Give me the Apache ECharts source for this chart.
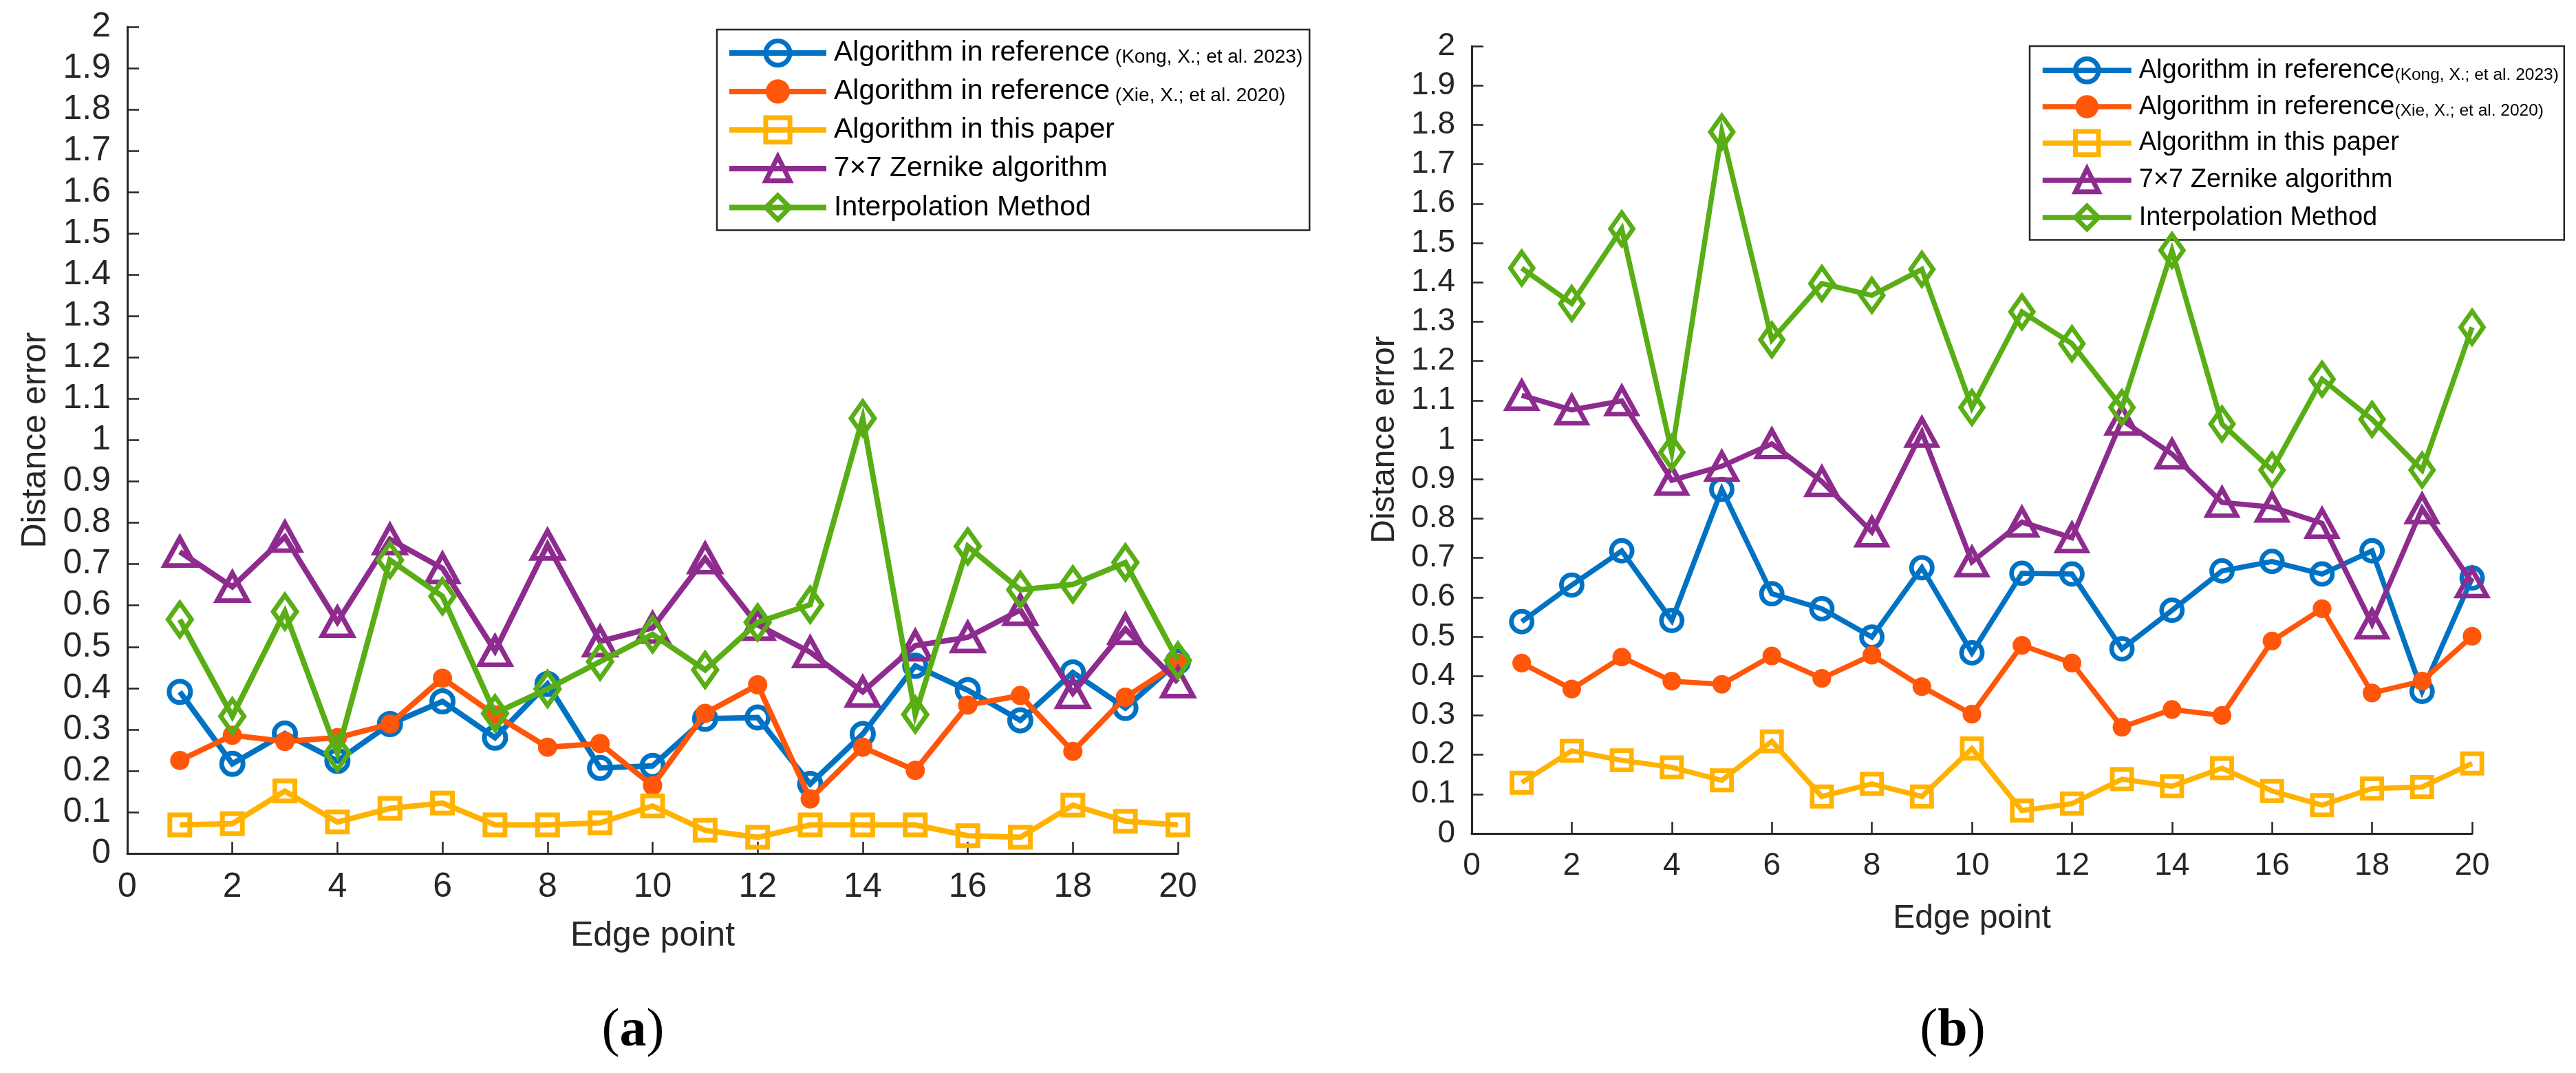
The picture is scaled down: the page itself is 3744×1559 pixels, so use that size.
<!DOCTYPE html>
<html>
<head>
<meta charset="utf-8">
<script src="https://cdn.jsdelivr.net/npm/echarts@6/dist/echarts.min.js"></script>
<style>
html,body{margin:0;padding:0;background:#fff;}
#c{width:3744px;height:1559px;}
</style>
</head>
<body>
<div id="c"></div>
<script>
// ---------- data ----------
const edgePoints = [1,2,3,4,5,6,7,8,9,10,11,12,13,14,15,16,17,18,19,20];

const legendMain = ['Algorithm in reference','Algorithm in reference','Algorithm in this paper','7\u00d77 Zernike algorithm','Interpolation Method'];
const legendCite = ['(Kong, X.; et al. 2023)','(Xie, X.; et al. 2020)','','',''];

// panel (a)
const kongA    = [0.391,0.217,0.290,0.224,0.313,0.368,0.280,0.410,0.207,0.212,0.326,0.329,0.168,0.289,0.454,0.395,0.322,0.438,0.352,0.464];
const xieA     = [0.225,0.286,0.271,0.280,0.313,0.424,0.335,0.257,0.266,0.164,0.339,0.408,0.132,0.257,0.201,0.359,0.382,0.247,0.378,0.460];
const oursA    = [0.069,0.072,0.151,0.076,0.109,0.122,0.069,0.069,0.074,0.115,0.056,0.039,0.069,0.069,0.069,0.043,0.039,0.117,0.078,0.069];
const zernikeA = [0.730,0.645,0.766,0.560,0.760,0.690,0.490,0.747,0.513,0.546,0.714,0.553,0.487,0.391,0.503,0.523,0.589,0.388,0.543,0.414];
const interpA  = [0.566,0.332,0.585,0.243,0.710,0.622,0.339,0.398,0.464,0.530,0.444,0.559,0.602,1.053,0.336,0.743,0.638,0.651,0.704,0.467];

// panel (b)
const kongB    = [0.538,0.631,0.718,0.541,0.874,0.609,0.571,0.499,0.675,0.459,0.661,0.659,0.469,0.567,0.667,0.691,0.659,0.718,0.361,0.649];
const xieB     = [0.433,0.367,0.448,0.387,0.379,0.451,0.394,0.453,0.373,0.303,0.478,0.433,0.270,0.315,0.300,0.489,0.571,0.357,0.387,0.501];
const oursB    = [0.129,0.210,0.186,0.168,0.135,0.234,0.094,0.126,0.094,0.216,0.058,0.076,0.138,0.120,0.166,0.108,0.072,0.114,0.118,0.178];
const zernikeB = [1.113,1.076,1.099,0.897,0.933,0.990,0.894,0.766,1.019,0.690,0.791,0.751,1.050,0.964,0.841,0.829,0.788,0.532,0.825,0.637];
const interpB  = [1.436,1.346,1.536,0.968,1.782,1.254,1.397,1.367,1.433,1.082,1.325,1.244,1.082,1.481,1.040,0.923,1.154,1.052,0.923,1.286];

const xAxisName = 'Edge point';
const yAxisName = 'Distance error';
const panelLabels = ['a','b'];

// ---------- styling ----------
const FONT = "'Liberation Sans', Arial, Helvetica, sans-serif";
const SERIF = "'Liberation Serif', 'Times New Roman', serif";
const AXIS = '#262626';
const colors = ['#0072C4','#FF560A','#FFB300','#8E2B8E','#58AE14'];
const seriesNames = legendMain.map((m,i)=> legendCite[i] ? m + ' ' + legendCite[i] : m);
const valuesA = [kongA, xieA, oursA, zernikeA, interpA];
const valuesB = [kongB, xieB, oursB, zernikeB, interpB];

function markerStyle(i, scale) {
  const c = colors[i];
  const bw = 7 * scale;
  switch (i) {
    case 0: return {symbol:'circle', symbolSize:31*scale, itemStyle:{color:'rgba(0,0,0,0)', borderColor:c, borderWidth:bw}};
    case 1: return {symbol:'circle', symbolSize:28*scale, itemStyle:{color:c, borderWidth:0}};
    case 2: return {symbol:'rect', symbolSize:29*scale, itemStyle:{color:'rgba(0,0,0,0)', borderColor:c, borderWidth:bw}};
    case 3: return {symbol:'triangle', symbolSize:[44*scale,40*scale], itemStyle:{color:'rgba(0,0,0,0)', borderColor:c, borderWidth:bw}};
    default: return {symbol:'diamond', symbolSize:[34*scale,48*scale], itemStyle:{color:'rgba(0,0,0,0)', borderColor:c, borderWidth:bw}};
  }
}

function buildSeries(values, gridIndex, lw, scale) {
  return values.map((vals, i) => Object.assign({
    type:'line',
    name: seriesNames[i],
    xAxisIndex: gridIndex,
    yAxisIndex: gridIndex,
    data: edgePoints.map((x, k) => [x, vals[k]]),
    lineStyle: {color: colors[i], width: lw, join:'miter'},
    showAllSymbol: true,
    animation: false,
    z: 2 + i
  }, markerStyle(i, scale)));
}

function legendFormatter(sep) {
  return function(name) {
    const i = seriesNames.indexOf(name);
    let s = '{m|' + legendMain[i] + '}';
    if (legendCite[i]) s += '{c|' + sep + legendCite[i] + '}';
    return s;
  };
}

function makeLegend(left, top, itemW, itemH, gap, mainSize, citeSize, sep, pad, lw) {
  return {
    data: seriesNames,
    orient: 'vertical',
    left: left, top: top,
    itemWidth: itemW, itemHeight: itemH, itemGap: gap,
    padding: pad,
    borderColor: AXIS, borderWidth: 2.5,
    backgroundColor: '#fff',
    selectedMode: false,
    lineStyle: {width: lw},
    itemStyle: {borderWidth: 7},
    formatter: legendFormatter(sep),
    textStyle: {
      fontFamily: FONT, color: '#000', fontSize: mainSize,
      padding: [0,0,0,6],
      rich: {
        m: {fontFamily: FONT, fontSize: mainSize, color:'#000', lineHeight: mainSize, verticalAlign:'bottom'},
        c: {fontFamily: FONT, fontSize: citeSize, color:'#000', lineHeight: mainSize, verticalAlign:'bottom'}
      }
    }
  };
}

function makeXAxis(gridIndex, fs, nameSize, nameGap) {
  return {
    type:'value', gridIndex, min:0, max:20, interval:2,
    name: xAxisName, nameLocation:'middle', nameGap,
    nameTextStyle:{fontFamily:FONT, fontSize:nameSize, color:AXIS},
    axisLine:{show:true, onZero:false, lineStyle:{color:AXIS, width:3}},
    axisTick:{show:true, inside:true, length:17, lineStyle:{color:AXIS, width:2.5}},
    axisLabel:{fontFamily:FONT, fontSize:fs, color:AXIS, margin:24},
    splitLine:{show:false}
  };
}
function makeYAxis(gridIndex, fs, nameSize, nameGap) {
  return {
    type:'value', gridIndex, min:0, max:2, interval:0.1,
    name: yAxisName, nameLocation:'middle', nameGap,
    nameTextStyle:{fontFamily:FONT, fontSize:nameSize, color:AXIS},
    axisLine:{show:true, onZero:false, lineStyle:{color:AXIS, width:3}},
    axisTick:{show:true, inside:true, length:17, lineStyle:{color:AXIS, width:2.5}},
    axisLabel:{fontFamily:FONT, fontSize:fs, color:AXIS, margin:24},
    splitLine:{show:false}
  };
}

function panelTitle(label, x) {
  return {text:'({b|' + label + '})', left:x, top:1455, textAlign:'center',
    textStyle:{fontFamily:SERIF, fontSize:78, fontWeight:'normal', color:'#000',
      rich:{b:{fontFamily:SERIF, fontSize:78, fontWeight:'bold', color:'#000'}}}};
}

const chart = echarts.init(document.getElementById('c'), null, {renderer:'canvas'});
chart.setOption({
  backgroundColor:'#fff',
  animation:false,
  title: [panelTitle(panelLabels[0], 915), panelTitle(panelLabels[1], 2833)],
  grid: [
    {left:185, top:39, width:1527, height:1201},
    {left:2139, top:67, width:1454, height:1144}
  ],
  xAxis: [makeXAxis(0, 50, 50, 95), makeXAxis(1, 46, 48, 100)],
  yAxis: [makeYAxis(0, 50, 50, 108), makeYAxis(1, 46, 48, 102)],
  legend: [
    makeLegend(1042, 43, 141, 44, 14.2, 41, 28, ' ', [13,10,12,14], 8),
    makeLegend(2950, 67, 129, 42, 13.5, 38, 24.5, '', [15,8,12,15], 7.5)
  ],
  series: buildSeries(valuesA, 0, 8, 1).concat(buildSeries(valuesB, 1, 7.5, 0.97))
});
</script>
</body>
</html>
